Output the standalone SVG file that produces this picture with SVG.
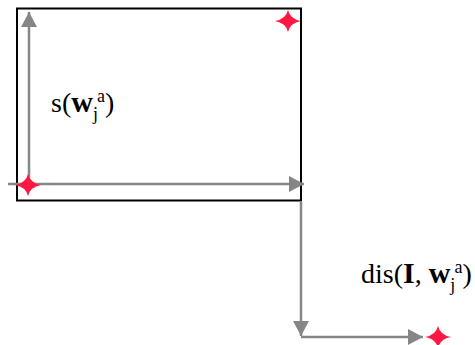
<svg xmlns="http://www.w3.org/2000/svg" width="475" height="345" viewBox="0 0 475 345">
<defs>
<marker id="ah" markerWidth="16" markerHeight="16" refX="15" refY="8" orient="auto" markerUnits="userSpaceOnUse">
<path d="M0,0 L15,8 L0,16 z" fill="#868686"/>
</marker>
<path id="star" d="M0,-11 Q2,-2 13,0 Q2,2 0,11 Q-2,2 -13,0 Q-2,-2 0,-11 z"/>
</defs>
<style>
.ar{stroke:#868686;stroke-width:2.5;fill:none;marker-end:url(#ah)}
.st{fill:#ff1744}
.t{font-family:"Liberation Serif",serif;font-size:28px;fill:#000}
.s{font-size:18px}
.b{font-weight:bold;font-size:30px}
</style>
<rect x="17" y="8.5" width="284" height="192" fill="#fff" stroke="#000" stroke-width="2"/>
<g id="connectors">
<path class="ar" d="M29,185 L29,12"/>
<path class="ar" d="M8,184 L304,184"/>
<path class="ar" d="M301,201 L301,336"/>
<path class="ar" d="M301,337 L423,337"/>
</g>
<g id="star1"><use href="#star" class="st" x="288" y="21"/></g>
<g id="star2"><use href="#star" class="st" x="28" y="185"/></g>
<g id="star3"><use href="#star" class="st" x="438" y="337"/></g>
<g id="label1"><text class="t" x="51" y="112">s(<tspan class="b">w</tspan><tspan class="s" dy="8">j</tspan><tspan class="s" dx="-1" dy="-18">a</tspan><tspan dy="10">)</tspan></text></g>
<g id="label2"><text class="t" x="361" y="283">dis(<tspan class="b">I</tspan>, <tspan class="b">w</tspan><tspan class="s" dy="8">j</tspan><tspan class="s" dx="-1" dy="-18">a</tspan><tspan dy="10">)</tspan></text></g>
</svg>
